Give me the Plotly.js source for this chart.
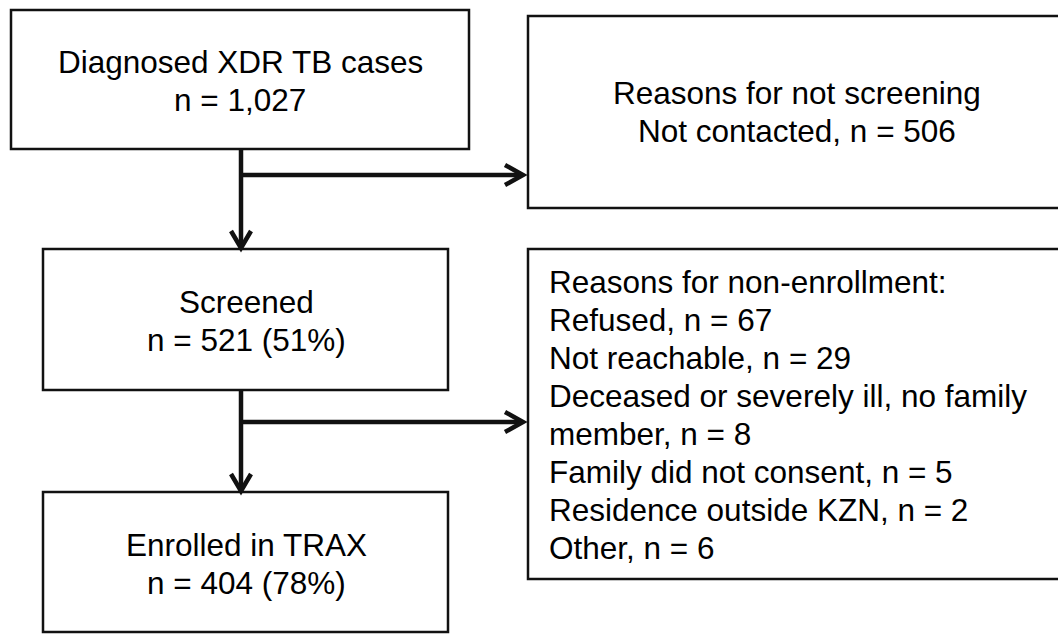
<!DOCTYPE html>
<html>
<head>
<meta charset="utf-8">
<script src="https://cdn.plot.ly/plotly-3.0.1.min.js"></script>
<style>
  html, body { margin: 0; padding: 0; background: #ffffff; }
  #chart { width: 1058px; height: 635px; }
</style>
</head>
<body>
<div id="chart"></div>
<script>
const stageLabels = ["Diagnosed XDR TB cases", "Screened", "Enrolled in TRAX"];
const stageCounts = [1027, 521, 404];
const stagePercents = [null, 51, 78];

const notScreenedTitle = "Reasons for not screening";
const notScreenedReasons = ["Not contacted"];
const notScreenedCounts = [506];

const nonEnrollTitle = "Reasons for non-enrollment:";
const nonEnrollReasons = ["Refused", "Not reachable", "Deceased or severely ill, no family<br>member",
                          "Family did not consent", "Residence outside KZN", "Other"];
const nonEnrollCounts = [67, 29, 8, 5, 2, 6];

// ---- Layout geometry (pixel space, y downward) ----
const W = 1058, H = 635;
const FONT = {family: "Liberation Sans, Arial, sans-serif", size: 31.5, color: "#000000"};
const LINE_GAP = 38;
const BOX_W = 2.5, ARROW_W = 4.5, INK = "#111111";

const leftBoxes = [
  {x0: 11, x1: 469, y0: 10, y1: 149, cx: 240},
  {x0: 43, x1: 448, y0: 249, y1: 390, cx: 246},
  {x0: 43, x1: 448, y0: 492, y1: 632, cx: 246}
];
// right boxes run past the right edge of the picture (no right side visible)
const rightBoxes = [
  {x0: 528, x1: 1062, y0: 16, y1: 208},
  {x0: 528, x1: 1062, y0: 249, y1: 579}
];
const trunkX = 241;
const branchY = [175, 422];
const arrowTipX = 524;

function fmt(n) { return n.toLocaleString("en-US"); }

const shapes = [];
const annotations = [];

function rect(b) {
  shapes.push({type: "rect", xref: "x", yref: "y", x0: b.x0, x1: b.x1, y0: b.y0, y1: b.y1,
               line: {color: INK, width: BOX_W}, fillcolor: "rgba(0,0,0,0)", layer: "above"});
}
function openBox(b) {
  shapes.push({type: "path", xref: "x", yref: "y",
               path: `M ${b.x1},${b.y0} L ${b.x0},${b.y0} L ${b.x0},${b.y1} L ${b.x1},${b.y1}`,
               line: {color: INK, width: BOX_W}, fillcolor: "rgba(0,0,0,0)", layer: "above"});
}
function seg(x0, y0, x1, y1) {
  shapes.push({type: "line", xref: "x", yref: "y", x0: x0, y0: y0, x1: x1, y1: y1,
               line: {color: INK, width: ARROW_W}});
}
function headDown(x, y) {
  shapes.push({type: "path", xref: "x", yref: "y",
               path: `M ${x - 10},${y - 18} L ${x},${y - 1} L ${x + 10},${y - 18}`,
               line: {color: INK, width: ARROW_W}});
}
function headRight(x, y) {
  shapes.push({type: "path", xref: "x", yref: "y",
               path: `M ${x - 19},${y - 10} L ${x - 1},${y} L ${x - 19},${y + 10}`,
               line: {color: INK, width: ARROW_W}});
}
function textLine(txt, x, y, anchor) {
  annotations.push({text: txt, x: x, y: y, xref: "x", yref: "y", xanchor: anchor, yanchor: "middle",
                    showarrow: false, font: FONT, align: anchor === "left" ? "left" : "center"});
}

// boxes
leftBoxes.forEach(rect);
rightBoxes.forEach(openBox);

// left column text
stageLabels.forEach((lab, i) => {
  const b = leftBoxes[i];
  const cy = (b.y0 + b.y1) / 2 + 1.5;
  const second = "n = " + fmt(stageCounts[i]) + (stagePercents[i] !== null ? " (" + stagePercents[i] + "%)" : "");
  textLine(lab, b.cx, cy - LINE_GAP / 2, "center");
  textLine(second, b.cx, cy + LINE_GAP / 2, "center");
});

// right top box text
(function () {
  const b = rightBoxes[0];
  const cy = (b.y0 + b.y1) / 2;
  const lines = [notScreenedTitle].concat(notScreenedReasons.map((r, i) => r + ", n = " + fmt(notScreenedCounts[i])));
  const start = cy - (lines.length - 1) * LINE_GAP / 2;
  lines.forEach((l, i) => textLine(l, 797, start + i * LINE_GAP, "center"));
})();

// right bottom box text
(function () {
  let lines = [nonEnrollTitle];
  nonEnrollReasons.forEach((r, i) => {
    const full = r + ", n = " + fmt(nonEnrollCounts[i]);
    full.split("<br>").forEach(p => lines.push(p));
  });
  const start = 282;
  lines.forEach((l, i) => textLine(l, 547, start + i * LINE_GAP, "left"));
})();

// arrows
for (let i = 0; i < 2; i++) {
  const top = leftBoxes[i].y1;
  const bottom = leftBoxes[i + 1].y0;
  seg(trunkX, top, trunkX, bottom - 2);
  headDown(trunkX, bottom);
  seg(trunkX, branchY[i], arrowTipX - 2, branchY[i]);
  headRight(arrowTipX, branchY[i]);
}

const layout = {
  width: W, height: H,
  margin: {l: 0, r: 0, t: 0, b: 0, pad: 0},
  paper_bgcolor: "#ffffff", plot_bgcolor: "#ffffff",
  showlegend: false,
  xaxis: {range: [0, W], visible: false, fixedrange: true},
  yaxis: {range: [H, 0], visible: false, fixedrange: true},
  shapes: shapes,
  annotations: annotations,
  font: FONT
};

Plotly.newPlot("chart", [{x: [], y: [], type: "scatter", mode: "markers", hoverinfo: "skip"}], layout,
               {staticPlot: true, displayModeBar: false});
</script>
</body>
</html>
